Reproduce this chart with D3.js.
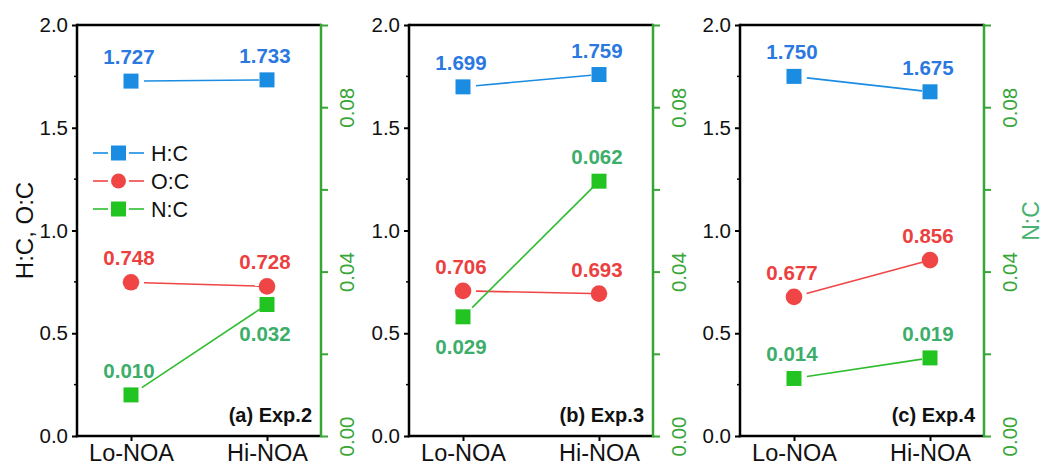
<!DOCTYPE html>
<html><head><meta charset="utf-8">
<script src="https://cdn.jsdelivr.net/npm/d3@7"></script>
<style>body{margin:0;background:#fff}svg{display:block;font-family:Arial,"Liberation Sans",sans-serif}</style>
</head><body><svg id="c" width="1044" height="468"></svg>
<script>
const categories = ["Lo-NOA", "Hi-NOA"];
const panels = ["(a) Exp.2", "(b) Exp.3", "(c) Exp.4"];
const hc = [[1.727, 1.733], [1.699, 1.759], [1.750, 1.675]];
const oc = [[0.748, 0.728], [0.706, 0.693], [0.677, 0.856]];
const nc = [[0.010, 0.032], [0.029, 0.062], [0.014, 0.019]];
// label placement: 1 = above, -1 = below
const ncLabelPos = [[1, -1], [-1, 1], [1, 1]];
const leftTicks = [0, 0.5, 1.0, 1.5, 2.0];
const rightTicks = [0, 0.04, 0.08];
const seriesNames = ["H:C", "O:C", "N:C"];

const C = {
  blue: "#1a8de3", blueTxt: "#2a78e0",
  red: "#f04545", redTxt: "#ec4040",
  green: "#22c422", greenLine: "#2ebd2e", greenTxt: "#3cae6a",
  axisGreen: "#37a637", title: "#45b36f"
};

const svg = d3.select("#c");
const yTop = 25, yBot = 436, W = 244;
const lefts = [77, 409, 740];
const y = d3.scaleLinear().domain([0, 2]).range([yBot, yTop]);
const y2 = d3.scaleLinear().domain([0, 0.10]).range([yBot, yTop]);

function segment(g, p1, p2, color, gapStart, gapEnd) {
  const dx = p2[0] - p1[0], dy = p2[1] - p1[1], L = Math.hypot(dx, dy);
  const ux = dx / L, uy = dy / L;
  g.append("line")
    .attr("x1", p1[0] + ux * gapStart).attr("y1", p1[1] + uy * gapStart)
    .attr("x2", p2[0] - ux * gapEnd).attr("y2", p2[1] - uy * gapEnd)
    .attr("stroke", color).attr("stroke-width", 1.6);
}
function square(g, cx, cy, color, s) {
  g.append("rect").attr("x", cx - s / 2).attr("y", cy - s / 2).attr("width", s).attr("height", s).attr("fill", color);
}
function circle(g, cx, cy, color, r) {
  g.append("circle").attr("cx", cx).attr("cy", cy).attr("r", r).attr("fill", color);
}

panels.forEach((pname, i) => {
  const L = lefts[i];
  const x = d3.scalePoint().domain(categories).range([L, L + W]).padding(0.397);
  const g = svg.append("g");

  g.append("line").attr("x1", L).attr("x2", L + W).attr("y1", yTop).attr("y2", yTop).attr("stroke", "#000").attr("stroke-width", 2.5);

  const ax = g.append("g").attr("transform", `translate(${L},0)`)
    .call(d3.axisLeft(y).tickValues(leftTicks).tickFormat(d3.format(".1f")).tickSize(5).tickPadding(4));
  ax.select(".domain").attr("stroke", "#000").attr("stroke-width", 2.5).attr("d", `M0,${yBot + 1.2}V${yTop - 1.2}`);
  ax.selectAll(".tick line").attr("stroke-width", 2);
  ax.selectAll(".tick text").attr("font-size", 20.5).attr("fill", "#111").attr("font-family", "Arial, Liberation Sans, sans-serif");
  const minorL = [0.25, 0.75, 1.25, 1.75];
  g.selectAll(".mnl").data(minorL).enter().append("line")
    .attr("x1", L - 3).attr("x2", L).attr("y1", d => y(d)).attr("y2", d => y(d)).attr("stroke", "#000").attr("stroke-width", 1.5);

  const bx = g.append("g").attr("transform", `translate(0,${yBot})`)
    .call(d3.axisBottom(x).tickSize(5).tickPadding(3));
  bx.select(".domain").attr("stroke", "#000").attr("stroke-width", 2.5).attr("d", `M${L - 1.2},0H${L + W}`);
  bx.selectAll(".tick line").attr("stroke-width", 2);
  bx.selectAll(".tick text").attr("font-size", 23.5).attr("fill", "#111").attr("font-family", "Arial, Liberation Sans, sans-serif").attr("dy", "0.74em");

  const rx = g.append("g").attr("transform", `translate(${L + W},0)`)
    .call(d3.axisRight(y2).tickValues([0, 0.02, 0.04, 0.06, 0.08, 0.10]).tickFormat(d => rightTicks.some(t => Math.abs(t - d) < 1e-9) ? d3.format(".2f")(d) : "").tickSize(7).tickPadding(0));
  rx.select(".domain").attr("stroke", C.axisGreen).attr("stroke-width", 2.5).attr("d", `M0,${yBot + 1.2}V${yTop - 1.2}`);
  rx.selectAll(".tick line").attr("stroke", C.axisGreen).attr("stroke-width", 2);
  rx.selectAll(".tick text").attr("font-size", 20.5).attr("fill", C.axisGreen)
    .attr("font-family", "Arial, Liberation Sans, sans-serif")
    .attr("text-anchor", "middle").attr("x", 0).attr("dy", 0)
    .attr("transform", "translate(33,0) rotate(-90)");

  const p = (cat, v, sc) => [x(cat), sc(v)];

  segment(g, p(categories[0], hc[i][0], y), p(categories[1], hc[i][1], y), C.blue, 13, 8);
  segment(g, p(categories[0], oc[i][0], y), p(categories[1], oc[i][1], y), C.red, 13, 8);
  segment(g, p(categories[0], nc[i][0], y2), p(categories[1], nc[i][1], y2), C.greenLine, 13, 8);

  categories.forEach((cat, j) => {
    const [hx, hy] = p(cat, hc[i][j], y);
    square(g, hx, hy, C.blue, 15);
    const [ox, oy] = p(cat, oc[i][j], y);
    circle(g, ox, oy, C.red, 8.3);
    const [nx, ny] = p(cat, nc[i][j], y2);
    square(g, nx, ny, C.green, 15);

    const lab = (xx, yy, txt, col) => g.append("text").attr("x", xx).attr("y", yy).attr("text-anchor", "middle")
      .attr("font-size", 20.5).attr("font-weight", "bold").attr("fill", col).text(txt);
    lab(hx - 2, hy - 17, d3.format(".3f")(hc[i][j]), C.blueTxt);
    lab(ox - 2, oy - 17, d3.format(".3f")(oc[i][j]), C.redTxt);
    lab(nx - 2, ncLabelPos[i][j] > 0 ? ny - 17 : ny + 37, d3.format(".3f")(nc[i][j]), C.greenTxt);
  });

  g.append("text").attr("x", L + W - 9).attr("y", 422).attr("text-anchor", "end")
    .attr("font-size", 20).attr("font-weight", "bold").attr("fill", "#111").text(pname);
});

svg.append("text").attr("transform", `translate(${33},${y(1)}) rotate(-90)`).attr("text-anchor", "middle")
  .attr("font-size", 24).attr("fill", "#111").text("H:C, O:C");
svg.append("text").attr("transform", `translate(${1039},${221}) rotate(-90)`).attr("text-anchor", "middle")
  .attr("font-size", 23).attr("fill", C.title).text("N:C");

const legColors = [C.blue, C.red, C.green];
const legLine = [C.blue, C.red, C.greenLine];
const legY = [153, 181, 209];
const lg = svg.append("g");
seriesNames.forEach((s, k) => {
  const yy = legY[k];
  lg.append("line").attr("x1", 93).attr("x2", 108).attr("y1", yy).attr("y2", yy).attr("stroke", legLine[k]).attr("stroke-width", 1.6);
  lg.append("line").attr("x1", 129).attr("x2", 144).attr("y1", yy).attr("y2", yy).attr("stroke", legLine[k]).attr("stroke-width", 1.6);
  if (k === 1) circle(lg, 118.5, yy, legColors[k], 7.5); else square(lg, 118.5, yy, legColors[k], 15);
  lg.append("text").attr("x", 151).attr("y", yy).attr("dy", "0.36em").attr("font-size", 21.5).attr("fill", "#111").text(s);
});
</script></body></html>
